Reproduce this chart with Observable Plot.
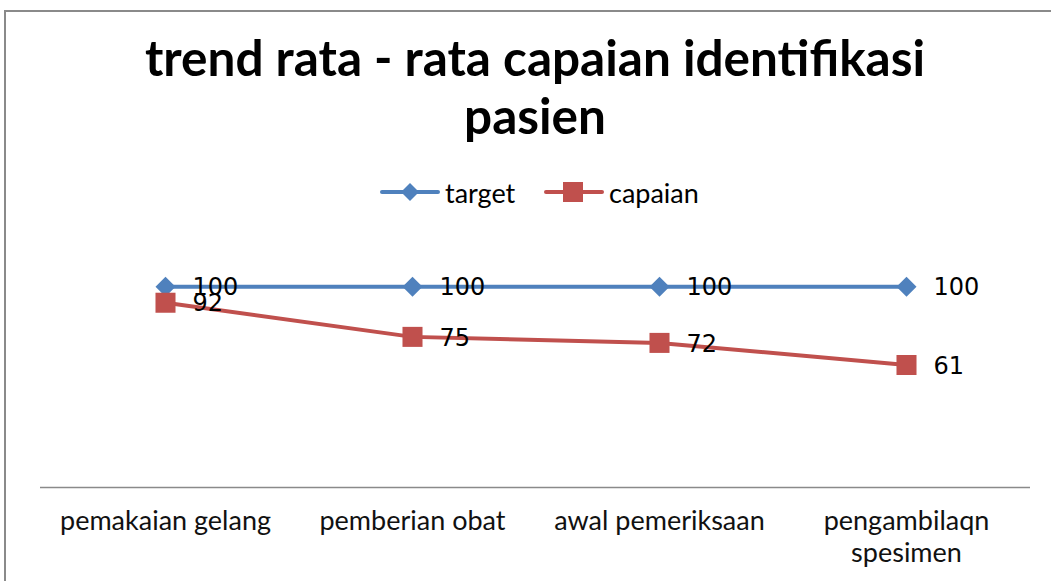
<!DOCTYPE html>
<html>
<head>
<meta charset="utf-8">
<script src="https://cdn.jsdelivr.net/npm/d3@7"></script>
<script src="https://cdn.jsdelivr.net/npm/@observablehq/plot@0.6"></script>
<style>
  html, body { margin: 0; padding: 0; background: #fff; overflow: hidden; }
  #wrap { position: relative; width: 1051px; height: 581px; overflow: hidden; background: #fff; }
  #frame { position: absolute; left: 4px; top: 10px; width: 1100px; height: 640px; border: 2px solid #8a8a8a; box-sizing: border-box; }
  #chart { position: absolute; left: 0; top: 0; }
  #title { position: absolute; left: 0; width: 1070px; top: 28px; text-align: center; font-family: Lato, "Open Sans", sans-serif; font-weight: 700; font-size: 49.5px; line-height: 58px; color: #000; }
  #legend { position: absolute; top: 0; left: 0; width: 1051px; height: 300px; font-family: Lato, "Open Sans", sans-serif; font-size: 27px; color: #000; }
  .item { position: absolute; top: 176px; display: flex; align-items: center; height: 32px; }
  .item svg { display: block; margin-right: 5px; }
</style>
</head>
<body>
<div id="wrap">
  <div id="chart"></div>
  <div id="frame"></div>
  <div id="title"></div>
  <div id="legend"></div>
</div>
<script>
const titleText = "trend rata - rata capaian identifikasi\npasien";
const categories = ["pemakaian gelang", "pemberian obat", "awal pemeriksaan", "pengambilaqn\nspesimen"];
const seriesNames = ["target", "capaian"];
const targetValues = [100, 100, 100, 100];
const capaianValues = [92, 75, 72, 61];
const colors = {target: "#4F81BD", capaian: "#C0504D"};

const rows = [];
categories.forEach((c, i) => {
  rows.push({cat: c, series: "target", value: targetValues[i]});
  rows.push({cat: c, series: "capaian", value: capaianValues[i]});
});
const tRows = rows.filter(d => d.series === "target");
const cRows = rows.filter(d => d.series === "capaian");

document.getElementById("title").innerHTML = titleText.split("\n").join("<br>");

const legend = document.getElementById("legend");
const legendLeft = {target: 380, capaian: 544};
seriesNames.forEach(s => {
  const marker = s === "target"
    ? `<path d="M30,6 L39,15 L30,24 L21,15 Z" fill="${colors[s]}"/>`
    : `<rect x="19" y="5" width="20" height="20" fill="${colors[s]}"/>`;
  const el = document.createElement("div");
  el.className = "item";
  el.style.left = legendLeft[s] + "px";
  el.innerHTML = `<svg width="60" height="30"><line x1="2" x2="58" y1="15" y2="15" stroke="${colors[s]}" stroke-width="4" stroke-linecap="round"/>${marker}</svg><span>${s}</span>`;
  legend.appendChild(el);
});

const plot = Plot.plot({
  width: 1051,
  height: 581,
  marginTop: 246,
  marginBottom: 94,
  marginLeft: 40,
  marginRight: 21,
  style: {background: "transparent", fontFamily: "Lato, 'Open Sans', sans-serif"},
  x: {type: "point", domain: categories, padding: 0.5, label: null},
  y: {domain: [0, 120], axis: null},
  marks: [
    Plot.axisX({tickSize: 0, tickPadding: 19, fontSize: 27, lineHeight: 1.2, fill: "#111", label: null}),
    Plot.ruleY([0], {stroke: "#8a8a8a", strokeWidth: 1.5}),
    Plot.line(tRows, {x: "cat", y: "value", stroke: colors.target, strokeWidth: 4}),
    Plot.line(cRows, {x: "cat", y: "value", stroke: colors.capaian, strokeWidth: 4}),
    Plot.dot(tRows, {x: "cat", y: "value", symbol: "diamond2", r: 9, fill: colors.target, stroke: null}),
    Plot.dot(cRows, {x: "cat", y: "value", symbol: "square", r: 11.3, fill: colors.capaian, stroke: null}),
    Plot.text(rows, {x: "cat", y: "value", text: d => String(d.value), dx: 27, dy: 1, textAnchor: "start", fontSize: 24, fontFamily: "'DejaVu Sans', Verdana, sans-serif", fill: "#000"})
  ]
});
document.getElementById("chart").appendChild(plot);
</script>
</body>
</html>
